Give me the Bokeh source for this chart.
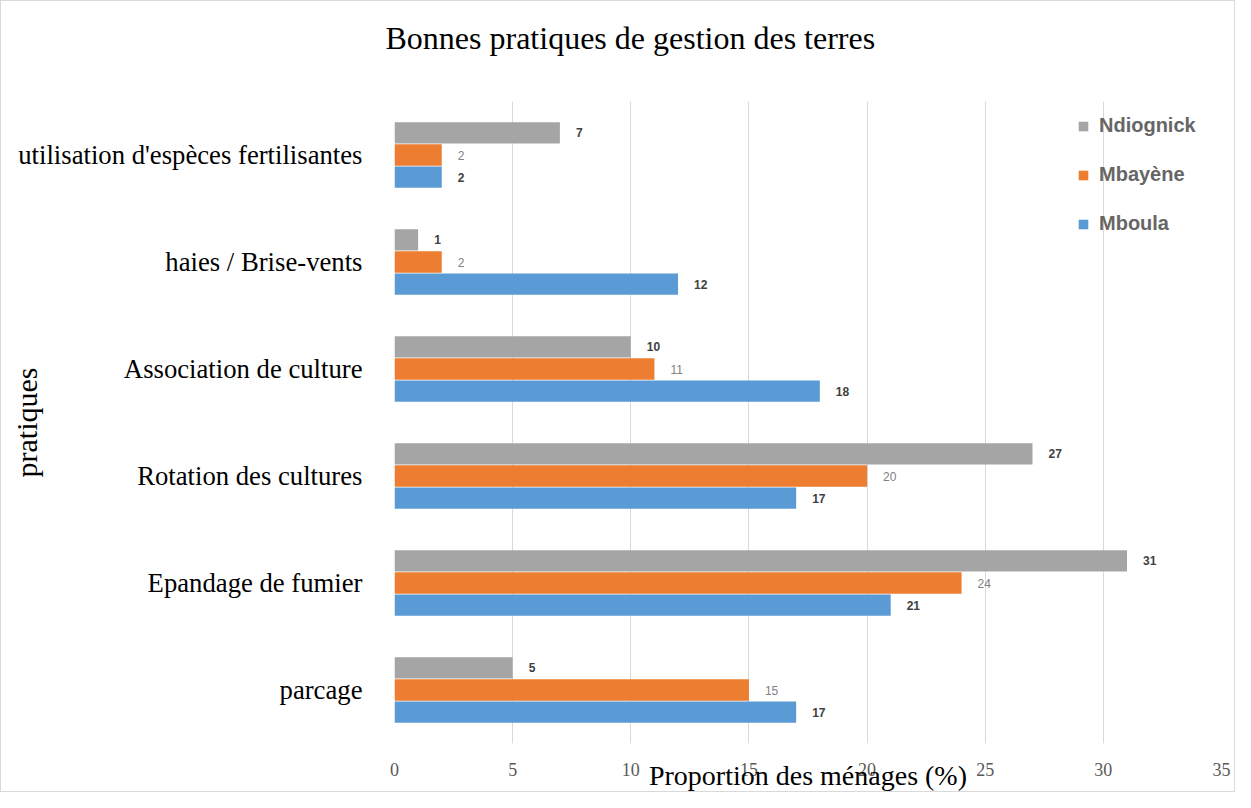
from bokeh.plotting import figure
from bokeh.models import ColumnDataSource, FactorRange, Legend, LegendItem, LabelSet
from bokeh.core.properties import value
from bokeh.transform import dodge
from bokeh.embed import file_html
from bokeh.resources import INLINE

categories = ["parcage", "Epandage de fumier", "Rotation des cultures",
              "Association de culture", "haies / Brise-vents",
              "utilisation d'espèces fertilisantes"]
ndiognick = [5, 31, 27, 10, 1, 7]
mbayene = [15, 24, 20, 11, 2, 2]
mboula = [17, 21, 17, 18, 12, 2]
series_names = ["Ndiognick", "Mbayène", "Mboula"]
colors = ["#A5A5A5", "#ED7D31", "#5B9BD5"]
x_ticks = [0, 5, 10, 15, 20, 25, 30, 35]

src = ColumnDataSource(dict(cat=categories, n=ndiognick, mb=mbayene, mo=mboula))

p = figure(width=1235, height=792, y_range=FactorRange(*categories, range_padding=0),
           x_range=(0, 35), output_backend="svg", toolbar_location=None,
           min_border_left=393, min_border_right=15, min_border_top=100, min_border_bottom=48)
p.styles = {"border": "1px solid #d9d9d9", "box-sizing": "border-box"}

p.title.text = "Bonnes pratiques de gestion des terres\n "
p.title.text_font = "Liberation Serif"
p.title.text_font_size = "32px"
p.title.text_font_style = "normal"
p.title.text_color = "#000000"
p.title.text_line_height = 1.2
p.title.align = "left"
p.title.offset = -9
p.title.standoff = 5

offsets = [0.207, 0.0, -0.207]
fields = ["n", "mb", "mo"]
renderers = []
for f, off, c in zip(fields, offsets, colors):
    r = p.hbar(y=dodge("cat", off, range=p.y_range), right=f, left=0, height=0.2,
               source=src, fill_color=c, line_color=None)
    renderers.append(r)
    lbl = LabelSet(x=f, y=dodge("cat", off, range=p.y_range), text=f, source=src,
                   x_offset=16, y_offset=0, text_align="left", text_baseline="middle",
                   text_font=value("Liberation Sans"), text_font_size="12px",
                   text_font_style="normal" if f == "mb" else "bold",
                   text_color="#808080" if f == "mb" else "#404040")
    p.add_layout(lbl)

legend = Legend(items=[LegendItem(label=n, renderers=[r]) for n, r in zip(series_names, renderers)],
                location=(683, 508), glyph_width=12, glyph_height=12, label_height=20,
                spacing=26, padding=0, margin=0, label_standoff=10,
                label_text_font="Liberation Sans", label_text_font_size="20px",
                label_text_font_style="bold", label_text_color="#666666",
                background_fill_alpha=0, border_line_color=None)
p.add_layout(legend)

p.xaxis.ticker = x_ticks
p.xaxis.axis_line_color = None
p.xaxis.major_tick_line_color = None
p.xaxis.minor_tick_line_color = None
p.xaxis.major_label_standoff = 13
p.xaxis.major_label_text_font = "Liberation Serif"
p.xaxis.major_label_text_font_size = "18px"
p.xaxis.major_label_text_color = "#595959"
p.xaxis.axis_label = "Proportion des ménages (%)"
p.xaxis.axis_label_text_font = "Liberation Serif"
p.xaxis.axis_label_text_font_size = "28px"
p.xaxis.axis_label_text_font_style = "normal"
p.xaxis.axis_label_text_color = "#000000"
p.xaxis.axis_label_standoff = -19

p.yaxis.axis_line_color = None
p.yaxis.major_tick_line_color = None
p.yaxis.minor_tick_line_color = None
p.yaxis.major_label_standoff = 26
p.yaxis.major_label_text_font = "Liberation Serif"
p.yaxis.major_label_text_font_size = "26.7px"
p.yaxis.major_label_text_color = "#000000"
p.yaxis.axis_label = "pratiques"
p.yaxis.axis_label_text_font = "Liberation Serif"
p.yaxis.axis_label_text_font_size = "30px"
p.yaxis.axis_label_text_font_style = "normal"
p.yaxis.axis_label_text_color = "#000000"
p.yaxis.axis_label_standoff = -28

p.ygrid.grid_line_color = None
p.xgrid.grid_line_color = "#D9D9D9"
p.xgrid.grid_line_width = 1
p.outline_line_color = None

open("out.html", "w").write(file_html(p, INLINE))
